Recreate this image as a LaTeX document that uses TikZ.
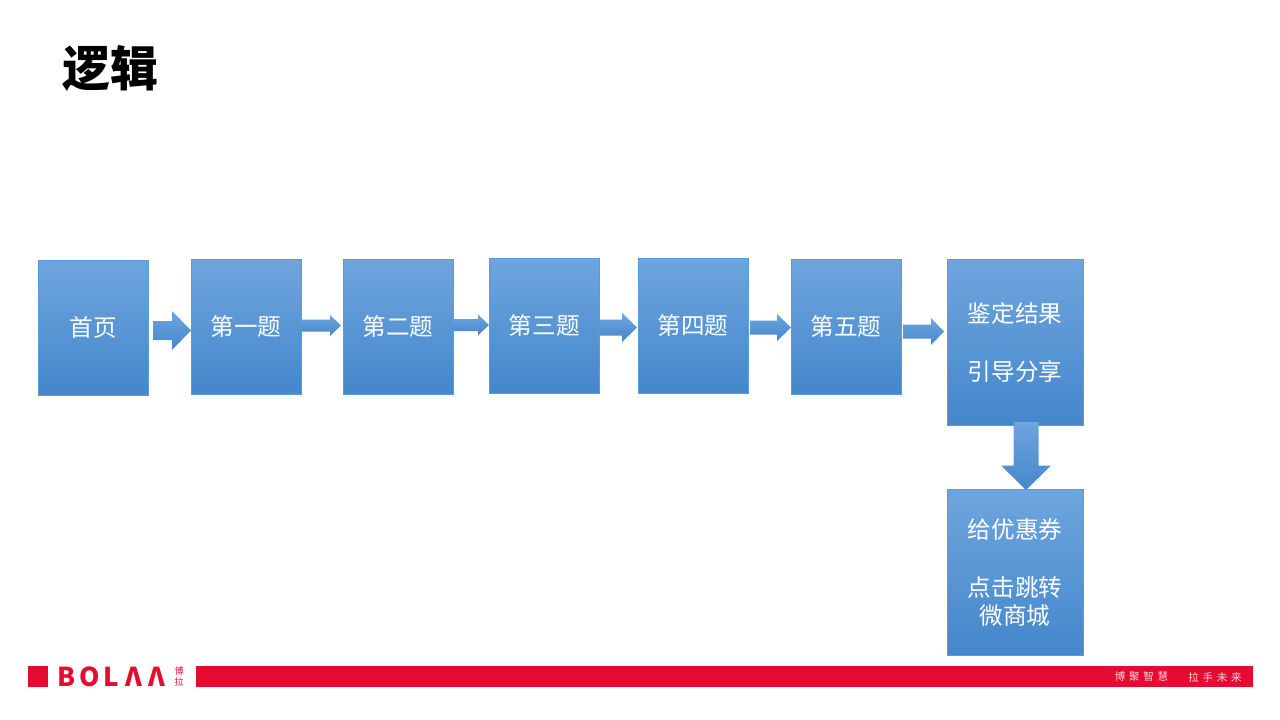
\documentclass[tikz,border=0pt]{standalone}
\usepackage{fontspec}
\setmainfont{Noto Sans CJK SC}
\usetikzlibrary{positioning}
\definecolor{boxtop}{HTML}{6FA5DE}
\definecolor{boxbot}{HTML}{4487CB}
\definecolor{boxline}{HTML}{5B9BD5}
\definecolor{brandred}{HTML}{E60B30}
\tikzset{
  x=1pt,y=-1pt,
  stepbox/.style={rectangle,draw=boxline,line width=0.6pt,top color=boxtop,bottom color=boxbot,
    inner sep=0pt,anchor=north west,text=white,align=center,font=\fontsize{23.6}{28}\selectfont},
  blockarrow/.style={top color=boxtop,bottom color=boxbot,draw=none},
  redfill/.style={fill=brandred,draw=none},
}
\newcommand{\rarrow}[6]{% x0 x1 xhead cy halfshaft halfhead
  \path[blockarrow] (#1,#4-#5) -- (#3,#4-#5) -- (#3,#4-#6) -- (#2,#4) -- (#3,#4+#6) -- (#3,#4+#5) -- (#1,#4+#5) -- cycle;}
\begin{document}
\begin{tikzpicture}
\useasboundingbox (0,0) rectangle (1280,720);
\fill[white] (0,0) rectangle (1280,720);
\node[anchor=west,inner sep=0pt,font=\fontsize{48}{56}\selectfont\bfseries] (title) at (62,68) {逻辑};

\node[stepbox,minimum width=109.5pt,minimum height=134.5pt] (b0) at (38,260) {首页};
\node[stepbox,minimum width=109.5pt,minimum height=134.5pt] (b1) at (191,259) {第一题};
\node[stepbox,minimum width=109.5pt,minimum height=134.5pt] (b2) at (343,259) {第二题};
\node[stepbox,minimum width=110pt,minimum height=134.5pt] (b3) at (489,258) {第三题};
\node[stepbox,minimum width=109.5pt,minimum height=134.5pt] (b4) at (638,258) {第四题};
\node[stepbox,minimum width=109.5pt,minimum height=134.5pt] (b5) at (791,259) {第五题};
\node[stepbox,minimum width=135.5pt,minimum height=165.5pt] (b6) at (947,259) {鉴定结果\\[30pt]引导分享};
\node[stepbox,minimum width=135.5pt,minimum height=165.5pt] (b7) at (947,489) {给优惠券\\[30pt]点击跳转\\微商城};

\rarrow{153}{191}{172}{330.5}{9.5}{19.5}
\rarrow{302}{341}{330}{325.5}{6}{10.5}
\rarrow{454}{489}{478}{325}{6}{10.5}
\rarrow{600}{637}{622}{327.5}{8}{14.5}
\rarrow{750}{791}{777}{327.5}{7}{13.5}
\rarrow{903}{944}{931}{331.5}{7}{13.5}
\path[blockarrow] (1013.5,422) -- (1038.5,422) -- (1038.5,465.5) -- (1051,465.5) -- (1026,490) -- (1001,465.5) -- (1013.5,465.5) -- cycle;

% footer
\fill[redfill] (27.5,666) rectangle (48,687);
\fill[redfill] (195.5,666) rectangle (1252.5,687);
\node[anchor=west,inner sep=0pt,text=brandred,font=\fontsize{26}{26}\selectfont\bfseries] (logo) at (57,676.5) {B\hspace{4pt}O\hspace{4pt}L\hspace{6pt}Λ\hspace{7pt}Λ};
\node[anchor=center,inner sep=0pt,text=brandred,align=center,font=\fontsize{9}{11}\selectfont] (logocn) at (179,677) {博\\拉};
\node[anchor=center,inner sep=0pt,text=white!85!brandred,font=\fontsize{10.5}{12}\selectfont] (sloganA) at (1141.5,677) {博\hspace{3.8pt}聚\hspace{3.8pt}智\hspace{3.8pt}慧};
\node[anchor=center,inner sep=0pt,text=white!85!brandred,font=\fontsize{10.5}{12}\selectfont] (sloganB) at (1215,677) {拉\hspace{3.8pt}手\hspace{3.8pt}未\hspace{3.8pt}来};
\end{tikzpicture}
\end{document}
